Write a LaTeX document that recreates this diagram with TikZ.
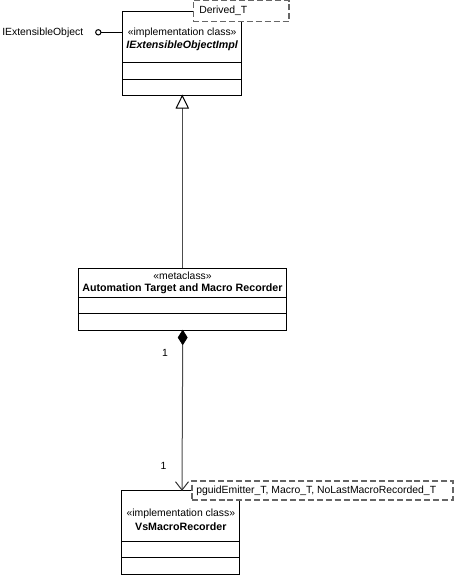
\documentclass[tikz,border=0pt]{standalone}
\usepackage{fontspec}
\setmainfont{Liberation Sans}
\usetikzlibrary{shapes.geometric}
\begin{document}
\begin{tikzpicture}[x=0.75pt,y=-0.75pt,
  every node/.style={font=\fontsize{7.8}{9}\selectfont, inner sep=0pt},
  boldname/.style={font=\fontsize{8}{9}\selectfont\bfseries},
  classbox/.style={draw=black, line width=0.75pt, fill=white, rectangle},
  parambox/.style={draw=black!60, line width=1.2pt, dash pattern=on 4.5pt off 2.2pt, fill=white, rectangle},
  conn/.style={draw=black!70, line width=0.75pt},
  sep/.style={draw=black, line width=0.75pt}]
\useasboundingbox (0,0) rectangle (456,576);

% ---- IExtensibleObjectImpl
\node[classbox, minimum width=89.25pt, minimum height=63pt] (c1) at (182.2,53.7) {};
\draw[sep] (c1.west |- 0,62) -- (c1.east |- 0,62);
\draw[sep] (c1.west |- 0,79) -- (c1.east |- 0,79);
\node (c1s) at (182.2,32.5) {«implementation class»};
\node[boldname] (c1n) at (182.2,46) {\itshape IExtensibleObjectImpl};
\node[parambox, minimum width=71.8pt, minimum height=15.75pt] (p1) at (241.2,11) {};
\node[anchor=west] (p1t) at (199,11) {Derived\_T};

% ---- interface lollipop
\node[anchor=west] (iface) at (2,32.5) {IExtensibleObject};
\node[circle, draw=black, line width=0.75pt, minimum size=4pt, fill=white] (lol) at (98.3,32.3) {};
\coordinate (c1w) at (122.7,32.3);
\draw[conn, draw=black] (lol) -- (c1w);

% ---- metaclass
\node[classbox, minimum width=156.3pt, minimum height=46.3pt] (c2) at (182.5,299.2) {};
\draw[sep] (c2.west |- 0,297) -- (c2.east |- 0,297);
\draw[sep] (c2.west |- 0,313.3) -- (c2.east |- 0,313.3);
\node (c2s) at (182.5,275.7) {«metaclass»};
\node[boldname] (c2n) at (182.5,288.5) {Automation Target and Macro Recorder};

% ---- generalization
\coordinate (g1) at (182.3,95.7);
\coordinate (g2) at (182.3,268.3);
\draw[conn] (182.3,108) -- (g2);
\draw[line width=0.75pt, fill=white] (g1) -- (176.3,108) -- (188.3,108) -- cycle;

% ---- VsMacroRecorder
\node[classbox, minimum width=88.7pt, minimum height=63.2pt] (c3) at (180.85,532.15) {};
\draw[sep] (c3.west |- 0,541) -- (c3.east |- 0,541);
\draw[sep] (c3.west |- 0,557.3) -- (c3.east |- 0,557.3);
\node (c3s) at (180.85,513.5) {«implementation class»};
\node[boldname] (c3n) at (180.85,526.5) {VsMacroRecorder};

% ---- composition
\node[diamond, fill=black, draw=black, line width=0.5pt, minimum width=7pt, minimum height=11pt, inner sep=0pt] (dia) at (182.7,337.5) {};
\coordinate (tip) at (182,490);
\draw[conn] (dia.south) -- (tip);
\draw[line width=0.75pt, black!80] (175.5,481.7) -- (tip) -- (188.5,481.7);
\node (m1) at (165,352.5) {1};
\node (m2) at (163.5,466) {1};

\node[parambox, minimum width=195.9pt, minimum height=14.25pt] (p3) at (322.35,490.5) {};
\node[anchor=west] (p3t) at (196,490.5) {pguidEmitter\_T, Macro\_T, NoLastMacroRecorded\_T};
\end{tikzpicture}
\end{document}
